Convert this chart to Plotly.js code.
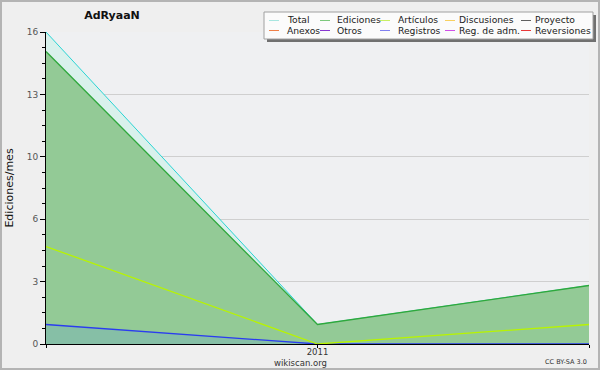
<!DOCTYPE html>
<html>
<head>
<meta charset="utf-8">
<script src="https://cdn.plot.ly/plotly-3.0.1.min.js"></script>
<style>
html,body{margin:0;padding:0;background:#efefef;}
#chart{width:596px;height:366px;border:2px solid #b4b4b4;}
</style>
</head>
<body>
<div id="chart"></div>
<script>
// ---- data ----
const months = ['2010-12', '2011-01', '2011-02'];
const xTickText = ['', '2011', ''];
const total = [16, 1, 3];
const ediciones = [15, 1, 3];
const articulos = [5, 0, 1];
const registros = [1, 0, 0];
const yTickVals = [0, 3.2, 6.4, 9.6, 12.8, 16];
const yTickText = ['0', '3', '6', '10', '13', '16'];
const legendNames = ['Total', 'Ediciones', 'Artículos', 'Discusiones', 'Proyecto',
                     'Anexos', 'Otros', 'Registros', 'Reg. de adm.', 'Reversiones'];

// ---- styles ----
const legendColors = ['#a8e6e0', '#7cc87c', '#c8f064', '#f8d060', '#606060',
                      '#f08048', '#8838d0', '#8080f0', '#d050e8', '#e83838'];
const FONT = 'DejaVu Sans, Verdana, sans-serif';

// plot area in image pixels (div is offset by the 2px border)
const PL = 46, PR = 589, PT = 32, PB = 344;
const px = X => (X - PL) / (PR - PL);
const py = Y => (PB - Y) / (PB - PT);

const traces = [
  {x: months, y: total, type: 'scatter', mode: 'lines', fill: 'tozeroy',
   fillcolor: '#d9f1ec', line: {color: '#2ad4d4', width: 1}, showlegend: false, hoverinfo: 'skip'},
  {x: months, y: ediciones, type: 'scatter', mode: 'lines', fill: 'tozeroy',
   fillcolor: '#93ca96', line: {color: '#2fa83c', width: 1.3}, showlegend: false, hoverinfo: 'skip'},
  {x: months, y: registros, type: 'scatter', mode: 'lines', fill: 'tozeroy',
   fillcolor: '#86bfa6', line: {color: '#2a3cf0', width: 1.3}, showlegend: false, hoverinfo: 'skip'},
  {x: months, y: articulos, type: 'scatter', mode: 'lines',
   line: {color: '#b8f400', width: 1.3}, showlegend: false, hoverinfo: 'skip'}
];

// legend drawn as shapes + annotations
const colLineX = [269, 320, 380, 445, 521];
const colTextX = [285, 335, 396, 457, 533];
const rowY = [20, 30];
const shapes = [
  {type: 'rect', xref: 'paper', yref: 'paper', x0: px(267), x1: px(596), y0: py(42), y1: py(15),
   fillcolor: '#707070', line: {width: 0}, layer: 'above'},
  {type: 'rect', xref: 'paper', yref: 'paper', x0: px(264), x1: px(593), y0: py(39), y1: py(12),
   fillcolor: '#fbfbfb', line: {color: '#a0a0a0', width: 1}, layer: 'above'}
];
const annotations = [];
legendNames.forEach((name, i) => {
  const c = i % 5, r = Math.floor(i / 5);
  shapes.push({type: 'line', xref: 'paper', yref: 'paper',
    x0: px(colLineX[c]), x1: px(colLineX[c] + 10), y0: py(rowY[r] + 0.5), y1: py(rowY[r] + 0.5),
    line: {color: legendColors[i], width: 1}, layer: 'above'});
  annotations.push({xref: 'paper', yref: 'paper', x: px(colTextX[c]), y: py(rowY[r]),
    xanchor: 'left', yanchor: 'middle', showarrow: false, text: name,
    font: {family: FONT, size: 9.2, color: '#222'}});
});
annotations.push({xref: 'paper', yref: 'paper', x: px(300), y: py(363), xanchor: 'center', yanchor: 'middle',
  showarrow: false, text: 'wikiscan.org', font: {family: FONT, size: 8.5, color: '#333'}});
annotations.push({xref: 'paper', yref: 'paper', x: px(589), y: py(362), xanchor: 'right', yanchor: 'middle',
  showarrow: false, text: 'CC BY-SA 3.0', font: {family: FONT, size: 6.5, color: '#333'}});

const layout = {
  width: 596, height: 366,
  margin: {l: PL - 2, r: 598 - PR, t: PT - 2, b: 368 - PB},
  paper_bgcolor: '#efefef', plot_bgcolor: '#eff0f2',
  font: {family: FONT},
  title: {text: '<b>AdRyaaN</b>', x: (112 - 2) / 596, xanchor: 'center', xref: 'container',
          y: 1 - (15 - 2) / 366, yanchor: 'middle', yref: 'container',
          font: {family: FONT, size: 11, color: '#111'}},
  showlegend: false,
  xaxis: {type: 'category', range: [0, 2], tickmode: 'array', tickvals: months, ticktext: xTickText,
          showgrid: false, zeroline: false, showline: true, linecolor: '#000', linewidth: 1,
          ticks: 'outside', ticklen: 3, tickcolor: '#000', ticklabelstandoff: -3,
          tickfont: {family: FONT, size: 8.5, color: '#333'}, fixedrange: true},
  yaxis: {range: [0, 16], tickmode: 'array', tickvals: yTickVals, ticktext: yTickText,
          showgrid: true, gridcolor: '#cfcfcf', gridwidth: 1, zeroline: false,
          showline: true, linecolor: '#000', linewidth: 1,
          ticks: 'outside', ticklen: 5, tickcolor: '#000',
          minor: {tickmode: 'linear', tick0: 0, dtick: 0.8, ticks: 'outside', ticklen: 3, tickcolor: '#000', showgrid: false},
          tickfont: {family: FONT, size: 9, color: '#555'},
          title: {text: 'Ediciones/mes', standoff: 10, font: {family: FONT, size: 11, color: '#111'}},
          fixedrange: true},
  shapes: shapes,
  annotations: annotations
};

Plotly.newPlot('chart', traces, layout, {staticPlot: true, displayModeBar: false});
</script>
</body>
</html>
